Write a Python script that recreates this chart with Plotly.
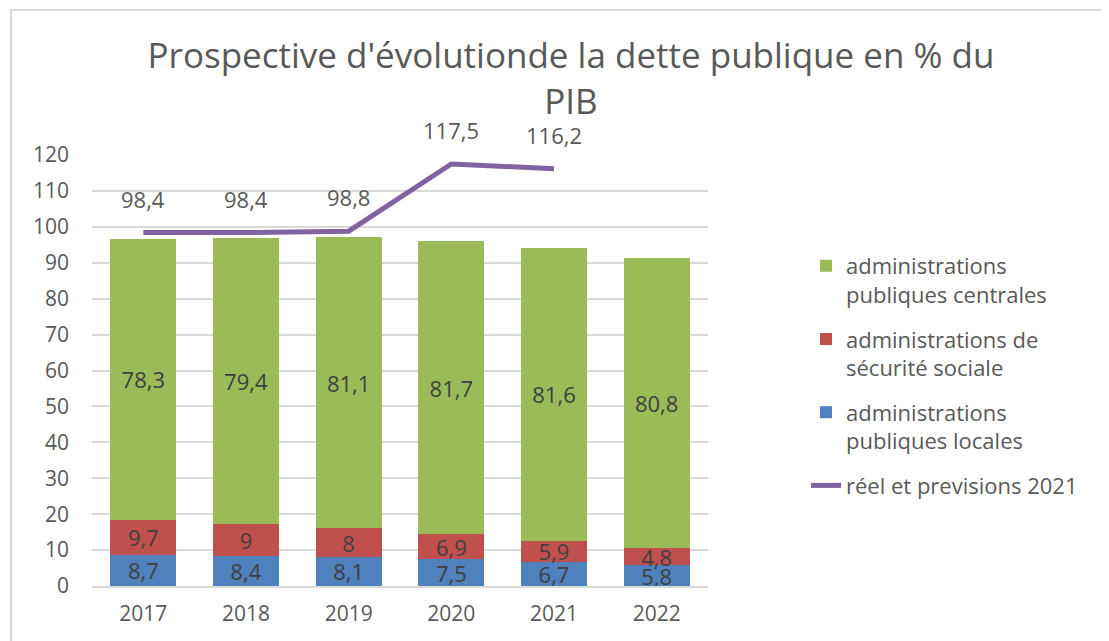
import plotly.graph_objects as go

years = ["2017", "2018", "2019", "2020", "2021", "2022"]
locales = [8.7, 8.4, 8.1, 7.5, 6.7, 5.8]
secu = [9.7, 9, 8, 6.9, 5.9, 4.8]
centrales = [78.3, 79.4, 81.1, 81.7, 81.6, 80.8]
line_years = ["2017", "2018", "2019", "2020", "2021"]
line_vals = [98.4, 98.4, 98.8, 117.5, 116.2]

names = ["administrations<br>publiques locales",
         "administrations de<br>sécurité sociale",
         "administrations<br>publiques centrales",
         "réel et previsions 2021"]

FONT = "'Open Sans', Lato, sans-serif"
GRAY = "#595959"
DARK = "#404040"
OFF = 8  # page body margin compensation

W, H = 1109, 641
PL, PR, PT, PB = 92 - OFF, 708 - OFF, 155 - OFF, 586 - OFF
PW, PH = PR - PL, PB - PT


def fmt(v):
    return ("%g" % v).replace(".", ",")


fig = go.Figure()
series = [(locales, "#4F81BD", names[0], 3),
          (secu, "#C0504D", names[1], 2),
          (centrales, "#9BBB59", names[2], 1)]
for vals, col, nm, rank in series:
    fig.add_trace(go.Bar(
        x=years, y=vals, name=nm, marker=dict(color=col, line=dict(width=0)),
        text=[fmt(v) for v in vals], textposition="inside", textangle=0,
        insidetextanchor="middle", constraintext="none",
        textfont=dict(family=FONT, size=22, color=DARK),
        legendrank=rank, legendgroup=nm, hoverinfo="skip"))

fig.add_trace(go.Scatter(
    x=line_years, y=line_vals, mode="lines", name=names[3],
    line=dict(color="#8064A2", width=5), legendrank=4, legendgroup=names[3]))

for xv, yv in zip(line_years, line_vals):
    fig.add_annotation(x=years.index(xv), y=yv, text=fmt(yv), showarrow=False,
                       yshift=34, font=dict(family=FONT, size=22, color=GRAY))

# chart frame
fig.add_shape(type="rect", xref="paper", yref="paper",
              x0=(11 - OFF - PL) / PW, x1=(1130 - PL) / PW,
              y0=-(H + 20 - PB) / PH, y1=1 + (PT - (10 - OFF)) / PH,
              line=dict(color="#d9d9d9", width=2), fillcolor="rgba(0,0,0,0)",
              layer="below")

fig.update_layout(
    width=W, height=H,
    margin=dict(l=PL, r=W - PR, t=PT, b=H - PB),
    paper_bgcolor="white", plot_bgcolor="white",
    barmode="stack", bargap=0.357,
    title=dict(text="Prospective d'évolutionde la dette publique en % du<br>PIB",
               x=563 / W, xanchor="center", xref="container",
               y=1 - 60 / H, yanchor="top", yref="container",
               font=dict(family=FONT, size=35, color=GRAY)),
    font=dict(family=FONT, color=GRAY),
    xaxis=dict(type="category", showgrid=False, showline=True,
               linecolor="#d9d9d9", linewidth=2, ticks="",
               ticklabelstandoff=8, automargin=False,
               tickfont=dict(family=FONT, size=21, color=GRAY)),
    yaxis=dict(range=[0, 120], tickvals=list(range(0, 121, 10)),
               showgrid=True, gridcolor="#d9d9d9", gridwidth=2,
               zeroline=False, showline=False, ticks="",
               ticklabelstandoff=22, automargin=False,
               tickfont=dict(family=FONT, size=21, color=GRAY)),
    legend=dict(x=798 / W, xref="container", xanchor="left",
                y=1 - 237 / H, yref="container", yanchor="top",
                traceorder="grouped", tracegroupgap=13, valign="top",
                font=dict(family=FONT, size=22, color=GRAY),
                bgcolor="rgba(0,0,0,0)"),
    showlegend=True,
)

fig.write_html("out.html")
